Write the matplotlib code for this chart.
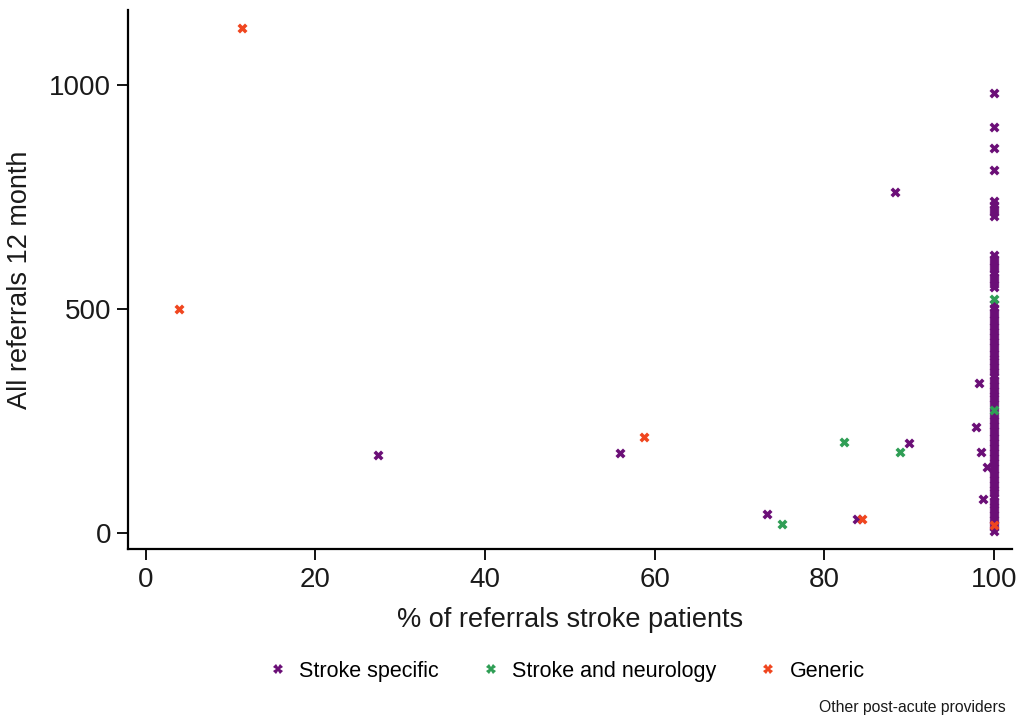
import matplotlib
matplotlib.use("Agg")
import matplotlib.pyplot as plt
from matplotlib.lines import Line2D

plt.rcParams['font.family'] = ['Liberation Sans', 'DejaVu Sans']

# % of referrals that are stroke patients vs. all referrals in 12 months
stroke_specific_x = [27.4, 55.9, 73.2, 83.8, 88.3, 90.0, 98.2, 97.9, 98.5, 99.2, 98.7,
                     100, 100, 100, 100, 100, 100, 100, 100, 100,
                     100, 100, 100, 100, 100, 100, 100, 100, 100, 100,
                     100, 100, 100, 100, 100, 100, 100, 100, 100, 100,
                     100, 100, 100, 100, 100, 100, 100, 100, 100, 100,
                     100, 100, 100, 100, 100, 100, 100, 100, 100, 100,
                     100, 100, 100, 100, 100, 100, 100, 100, 100, 100,
                     100, 100, 100, 100, 100, 100, 100, 100, 100, 100,
                     100, 100, 100, 100, 100, 100, 100, 100, 100, 100,
                     100, 100, 100, 100, 100, 100, 100]
stroke_specific_y = [174, 179, 42, 31, 761, 201, 335, 237, 181, 148, 76,
                     982, 906, 859, 810, 740, 732, 724, 716, 708,
                     620, 612, 604, 596, 588, 580, 572, 564, 556, 549,
                     510, 502, 494, 486, 478, 470, 462, 455, 448, 440,
                     432, 425, 418, 410, 402, 395, 388, 381, 373, 366,
                     358, 350, 342, 335, 328, 320, 312, 305, 298, 290,
                     283, 268, 260, 252, 245, 238, 230, 222, 215, 208,
                     200, 192, 185, 178, 170, 162, 155, 148, 140, 132,
                     125, 118, 110, 102, 95, 88, 80, 72, 65, 58,
                     50, 42, 35, 28, 20, 12, 5]

stroke_neuro_x = [75.0, 82.3, 88.9, 100, 100]
stroke_neuro_y = [20, 203, 181, 522, 275]

generic_x = [3.9, 11.3, 58.7, 84.4, 100]
generic_y = [500, 1127, 214, 31, 18]

series_labels = ["Stroke specific", "Stroke and neurology", "Generic"]
series_colors = ["#6b0f77", "#2f9e55", "#f0461f"]

x_ticks = [0, 20, 40, 60, 80, 100]
y_ticks = [0, 500, 1000]

fig = plt.figure(figsize=(10.18, 7.21), dpi=100)
ax = fig.add_axes([0.1257, 0.2386, 0.8683, 0.7474])

mk = dict(marker='X', s=52, linewidths=0, zorder=3)
ax.scatter(stroke_specific_x, stroke_specific_y, color=series_colors[0], **mk)
ax.scatter(stroke_neuro_x, stroke_neuro_y, color=series_colors[1], **mk)
ax.scatter(generic_x, generic_y, color=series_colors[2], **mk)

ax.set_xlim(-2.1, 102.1)
ax.set_ylim(-36, 1167)
ax.set_xticks(x_ticks)
ax.set_yticks(y_ticks)
ax.tick_params(axis='both', labelsize=20, length=8, width=1.3, color='black',
               labelcolor='#1a1a1a')
ax.tick_params(axis='x', pad=5)
ax.tick_params(axis='y', pad=4)
for s in ['top', 'right']:
    ax.spines[s].set_visible(False)
for s in ['left', 'bottom']:
    ax.spines[s].set_linewidth(1.6)

ax.set_xlabel("% of referrals stroke patients", fontsize=19.5, labelpad=10,
              color='#1a1a1a')
ax.set_ylabel("All referrals 12 month", fontsize=19.5, labelpad=12,
              color='#1a1a1a')

handles = [Line2D([], [], linestyle='none', marker='X', markersize=6.5,
                  markeredgewidth=0, color=c) for c in series_colors]
fig.legend(handles, series_labels, loc='center', bbox_to_anchor=(0.556, 0.069),
           ncol=3, frameon=False, fontsize=15.5, handlelength=1.0,
           handletextpad=0.5, columnspacing=1.9)

fig.text(0.988, 0.008, "Other post-acute providers", ha='right', va='bottom',
         fontsize=11.3, color='#1a1a1a')

fig.savefig("out.png", dpi=100, facecolor='white')
